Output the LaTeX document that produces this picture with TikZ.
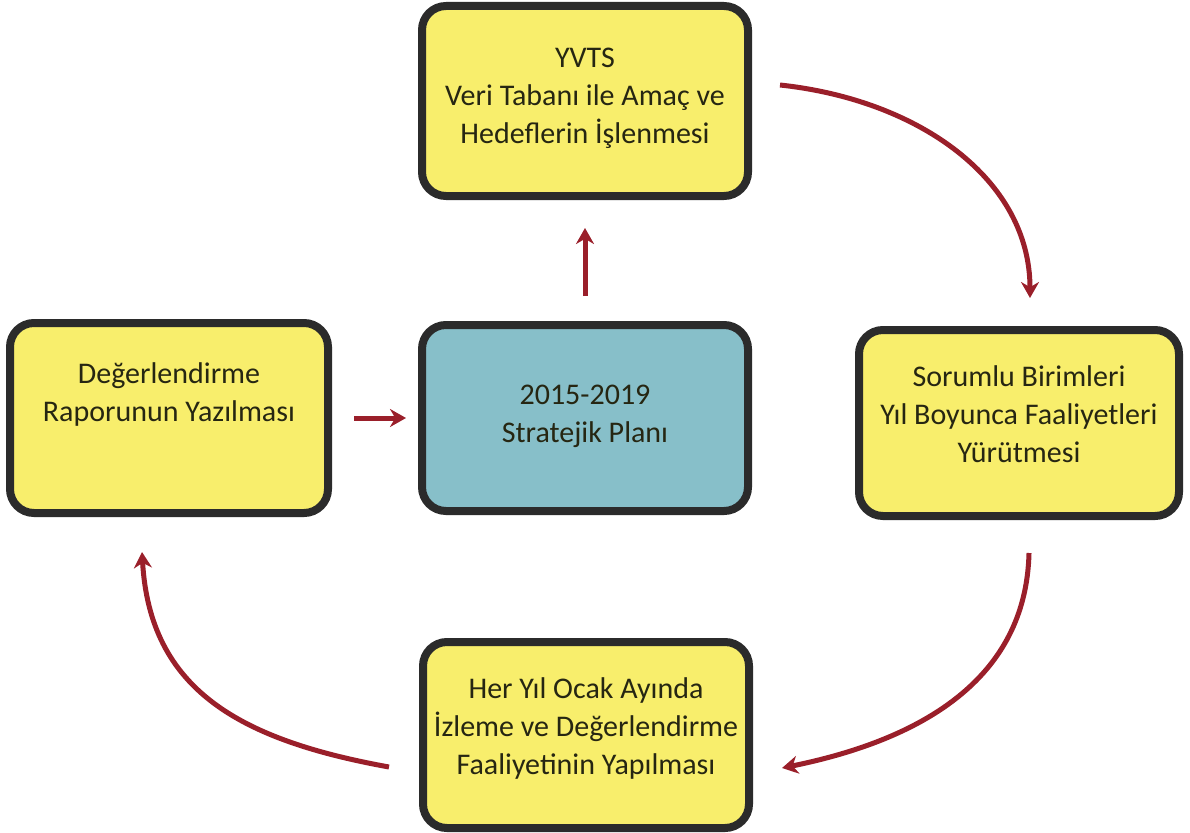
\documentclass[tikz,border=0pt]{standalone}
\usepackage{fontspec}
\setmainfont{Carlito}
\usetikzlibrary{arrows.meta}
\definecolor{boxyellow}{HTML}{F8EE6C}
\definecolor{boxteal}{HTML}{87BFC9}
\definecolor{boxline}{HTML}{2B2B2B}
\definecolor{arrowred}{HTML}{9A1F2A}
\definecolor{txt}{HTML}{262612}
\begin{document}
\begin{tikzpicture}[x=1pt,y=-1pt,
  stagebox/.style={draw=boxline,line width=8pt,rounded corners=24pt,fill=boxyellow,inner sep=0pt},
  boxtext/.style={align=center,font=\fontsize{30}{38}\selectfont,text=txt,inner sep=0pt},
  flow/.style={draw=arrowred,line width=5pt,-{Stealth[length=16pt,width=18pt]}}]
\useasboundingbox (0,0) rectangle (1190,832);
% boxes
\node[stagebox,minimum width=326pt,minimum height=190pt] (top) at (585,101) {};
\node[stagebox,minimum width=318pt,minimum height=190pt] (left) at (169,418) {};
\node[stagebox,fill=boxteal,minimum width=326pt,minimum height=186pt] (mid) at (585,418) {};
\node[stagebox,minimum width=320pt,minimum height=186pt] (right) at (1019,423) {};
\node[stagebox,minimum width=326pt,minimum height=186pt] (bot) at (586,735) {};
% texts
\node[boxtext] (ttop) at (585,98) {YVTS\\Veri Tabanı ile Amaç ve\\Hedeflerin İşlenmesi};
\node[boxtext] (tleft) at (169,394) {Değerlendirme\\Raporunun Yazılması};
\node[boxtext] (tmid) at (585,416) {2015-2019\\Stratejik Planı};
\node[boxtext] (tright) at (1019,414) {Sorumlu Birimleri\\Yıl Boyunca Faaliyetleri\\Yürütmesi};
\node[boxtext] (tbot) at (586,728) {Her Yıl Ocak Ayında\\İzleme ve Değerlendirme\\Faaliyetinin Yapılması};
% straight connectors
\draw[flow,shorten <=25pt,shorten >=28pt] (mid.north) -- (top.south);
\draw[flow,shorten <=22pt,shorten >=12pt] (left.east) -- (mid.west);
% curved connectors
\coordinate (a1) at (780,85);
\coordinate (a1e) at (1030,298);
\draw[flow] (a1) .. controls (920,100) and (1030,180) .. (a1e);
\coordinate (a2) at (1029,553);
\coordinate (a2e) at (782,768);
\draw[flow] (a2) .. controls (1026,680) and (920,740) .. (a2e);
\coordinate (a3) at (389,767);
\coordinate (a3e) at (142,552);
\draw[flow] (a3) .. controls (240,740) and (150,690) .. (a3e);
\end{tikzpicture}
\end{document}
